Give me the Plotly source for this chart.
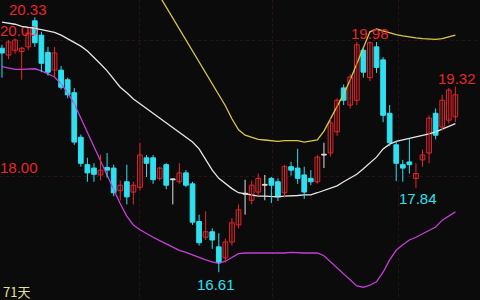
import plotly.graph_objects as go

opens = [19.88,19.78,19.85,19.83,19.90,20.28,20.07,19.82,19.56,19.56,
         19.42,19.23,18.58,18.18,18.13,18.03,18.14,18.13,17.80,17.93,
         17.78,17.85,18.28,18.28,17.98,18.18,17.96,17.93,18.06,17.90,
         17.35,17.12,17.20,16.98,16.82,17.05,17.30,17.75,17.66,17.78,
         17.88,17.98,17.93,17.77,18.15,18.13,18.03,17.98,17.93,18.32,
         18.35,18.66,19.30,19.05,19.12,19.85,19.45,19.90,19.71,18.93,
         18.47,18.18,18.22,17.98,18.25,18.35,18.93,18.73,18.83,18.88]
highs = [19.93,20.00,20.02,19.90,20.12,20.33,20.12,19.90,19.90,19.62,
         19.45,19.30,18.62,18.28,18.20,18.33,18.35,18.18,17.95,18.18,
         17.93,18.50,18.32,18.32,18.15,18.20,17.98,18.20,18.10,17.93,
         17.45,17.50,17.25,17.18,17.10,17.40,17.60,17.96,17.95,18.05,
         18.03,18.00,17.98,18.18,18.22,18.41,18.15,18.10,18.32,18.50,
         18.85,19.15,19.35,19.50,19.97,19.90,19.98,19.97,19.75,19.05,
         18.53,18.25,18.56,18.20,18.40,18.90,19.00,19.20,19.30,19.32]
lows = [19.45,19.72,19.80,19.42,19.85,19.90,19.53,19.48,19.45,19.28,
        19.15,18.47,18.15,17.93,17.93,17.95,17.99,17.72,17.66,17.60,
        17.60,17.80,18.00,17.90,17.95,17.82,17.60,17.90,17.85,17.30,
        17.00,17.08,16.95,16.61,16.75,17.00,17.25,17.45,17.60,17.72,
        17.66,17.62,17.65,17.70,18.02,17.90,17.68,17.88,17.90,18.13,
        18.30,18.60,19.05,19.00,19.05,19.45,19.40,19.52,18.80,18.45,
        17.94,17.93,18.05,17.84,18.15,18.20,18.55,18.68,18.78,18.80]
closes = [19.81,19.97,20.00,19.88,20.10,19.96,19.66,19.53,19.81,19.31,
          19.20,18.51,18.20,18.06,18.04,18.10,18.10,17.77,17.88,17.71,
          17.88,18.32,18.20,17.96,18.13,17.88,17.96,18.06,17.88,17.34,
          17.04,17.20,17.08,16.75,17.05,17.33,17.52,17.75,17.88,17.98,
          17.88,17.88,17.71,18.15,18.10,17.98,17.78,17.93,18.29,18.32,
          18.79,19.12,19.12,19.46,19.93,19.53,19.96,19.60,18.90,18.50,
          18.20,18.13,18.18,18.05,18.32,18.86,18.61,19.12,19.27,19.20]

upper = [21.36,21.38,21.39,21.40,21.42,21.43,21.46,21.50,21.55,21.60,
         21.66,21.71,21.74,21.75,21.75,21.72,21.68,21.61,21.52,21.40,
         21.27,21.12,20.96,20.80,20.64,20.48,20.32,20.16,20.00,19.84,
         19.68,19.52,19.36,19.20,19.04,18.85,18.69,18.61,18.58,18.55,
         18.54,18.53,18.52,18.53,18.53,18.53,18.51,18.52,18.54,18.67,
         18.85,19.02,19.21,19.42,19.65,19.90,20.12,20.16,20.13,20.10,
         20.08,20.06,20.04,20.03,20.02,20.01,20.01,20.02,20.04,20.07]
middle = [20.26,20.25,20.23,20.20,20.19,20.17,20.15,20.13,20.11,20.07,
          20.02,19.97,19.91,19.84,19.75,19.65,19.55,19.43,19.31,19.23,
          19.14,19.07,19.00,18.93,18.87,18.80,18.73,18.66,18.59,18.51,
          18.41,18.25,18.10,17.98,17.90,17.83,17.77,17.75,17.74,17.72,
          17.72,17.71,17.71,17.72,17.72,17.73,17.74,17.74,17.77,17.80,
          17.83,17.87,17.93,17.99,18.04,18.12,18.20,18.29,18.41,18.48,
          18.52,18.54,18.56,18.58,18.61,18.63,18.66,18.70,18.74,18.78]
lower = [19.61,19.59,19.57,19.57,19.58,19.58,19.55,19.51,19.46,19.36,
         19.23,19.07,18.86,18.66,18.45,18.25,18.03,17.81,17.61,17.43,
         17.30,17.23,17.17,17.12,17.07,17.02,16.98,16.93,16.90,16.86,
         16.82,16.79,16.76,16.74,16.77,16.82,16.88,16.89,16.89,16.89,
         16.88,16.89,16.89,16.89,16.90,16.89,16.89,16.89,16.89,16.85,
         16.76,16.67,16.58,16.50,16.41,16.39,16.42,16.47,16.61,16.79,
         16.93,17.01,17.08,17.12,17.17,17.21,17.27,17.37,17.43,17.49]

axis_labels = ["20.00", "18.00"]
axis_levels = [20.0, 18.0]
period_label = "71天"

BG = "#0b0b0b"
RED = "#e8262c"
CYAN = "#2fe0f0"
WHITE = "#e0e0e0"
idx = list(range(len(opens)))

fig = go.Figure()

# axis price labels (drawn beneath the candles)
fig.add_trace(go.Scatter(x=[-0.3, -0.3], y=axis_levels, mode="text", text=axis_labels,
                         textposition="top right",
                         textfont=dict(family="Liberation Sans, Arial", size=15, color=RED),
                         hoverinfo="skip", showlegend=False, cliponaxis=False))

# bands
fig.add_trace(go.Scatter(x=idx, y=upper, mode="lines", line=dict(color="#d8c84a", width=1.3),
                         showlegend=False))
fig.add_trace(go.Scatter(x=idx, y=middle, mode="lines", line=dict(color="#e6e6e6", width=1.3),
                         showlegend=False))
fig.add_trace(go.Scatter(x=idx, y=lower, mode="lines", line=dict(color="#c53fd8", width=1.3),
                         showlegend=False))

groups = {
    "up": (RED, BG),
    "down": (CYAN, CYAN),
    "flat": (WHITE, WHITE),
}
for g, (lc, fc) in groups.items():
    sel = [i for i in idx if (closes[i] > opens[i] if g == "up" else closes[i] < opens[i] if g == "down" else closes[i] == opens[i])]
    wx, wy = [], []
    for i in sel:
        wx += [i, i, None]
        wy += [lows[i], highs[i], None]
    fig.add_trace(go.Scatter(x=wx, y=wy, mode="lines", line=dict(color=lc, width=1),
                             showlegend=False, hoverinfo="skip"))
    fig.add_trace(go.Bar(x=sel,
                         base=[min(opens[i], closes[i]) for i in sel],
                         y=[max(abs(closes[i] - opens[i]), 0.012) for i in sel],
                         width=0.72,
                         marker=dict(color=fc, line=dict(color=lc, width=1)),
                         showlegend=False))

# extreme labels
imax = max(idx, key=lambda i: highs[i])
imin = min(idx, key=lambda i: lows[i])
ann = []
def lab(i, y, color, xs, ys):
    ann.append(dict(x=i, y=y, text=f"{y:.2f}", showarrow=False, xshift=xs, yshift=ys,
                    font=dict(family="Liberation Sans, Arial", size=15, color=color)))
lab(imax, highs[imax], RED, -7, 8)
lab(56, highs[56], RED, 0, 8)
lab(69, highs[69], RED, 2, 8)
lab(63, lows[63], CYAN, 2, -11)
lab(imin, lows[imin], CYAN, -3, -12)
ann.append(dict(x=0, y=0, xref="paper", yref="paper", xanchor="left", yanchor="bottom",
                text=period_label, showarrow=False, yshift=-3, xshift=1,
                font=dict(family="Noto Sans CJK SC, Liberation Sans", size=13, color="#e8e0a0")))

fig.update_layout(
    width=480, height=300, margin=dict(l=0, r=0, t=0, b=0),
    paper_bgcolor=BG, plot_bgcolor=BG, barmode="overlay", showlegend=False,
    annotations=ann,
    xaxis=dict(range=[-0.30, 72.75], showticklabels=False, zeroline=False,
               showgrid=True, tickvals=[21, 41.2, 60.3], gridcolor="#2a1414", griddash="dot", gridwidth=1),
    yaxis=dict(range=[16.204, 20.584], showticklabels=False, zeroline=False,
               showgrid=True, tickvals=axis_levels, gridcolor="#2a1414", griddash="dot", gridwidth=1),
)
fig.write_html("out.html")
